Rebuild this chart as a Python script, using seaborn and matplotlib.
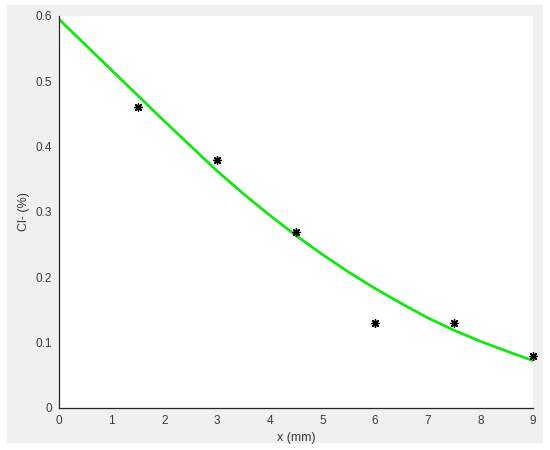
import matplotlib
matplotlib.use("Agg")
import matplotlib.pyplot as plt
import seaborn as sns
import pandas as pd
from matplotlib.patches import Rectangle

# Measured data points
x_data = [1.5, 3.0, 4.5, 6.0, 7.5, 9.0]
cl_data = [0.46, 0.38, 0.27, 0.13, 0.13, 0.08]

# Fitted curve
x_fit = [0, 0.5, 1, 1.5, 2, 2.5, 3, 3.5, 4, 4.5, 5, 5.5, 6, 6.5, 7, 7.5, 8, 8.5, 9]
cl_fit = [0.595, 0.556, 0.517, 0.478, 0.439, 0.401, 0.363, 0.328, 0.295, 0.264,
          0.235, 0.208, 0.183, 0.160, 0.138, 0.119, 0.102, 0.087, 0.0725]

x_ticks = [0, 1, 2, 3, 4, 5, 6, 7, 8, 9]
y_ticks = [0, 0.1, 0.2, 0.3, 0.4, 0.5, 0.6]
y_tick_labels = ["0", "0.1", "0.2", "0.3", "0.4", "0.5", "0.6"]

sns.set_style("white")
plt.rcParams['font.family'] = ['Liberation Sans', 'DejaVu Sans']

fig = plt.figure(figsize=(5.5, 4.5), dpi=100, facecolor="white")
bg = Rectangle((7 / 550, 1 - 443 / 450), 536 / 550, 438 / 450,
               transform=fig.transFigure, facecolor="#f0f0f0",
               edgecolor="none", zorder=-10)
fig.add_artist(bg)
ax = fig.add_axes([59 / 550, 1 - 408 / 450, 474 / 550, 392 / 450])
ax.set_zorder(1)
ax.set_facecolor("white")

df_fit = pd.DataFrame({"x": x_fit, "cl": cl_fit})
df_pts = pd.DataFrame({"x": x_data, "cl": cl_data})

sns.lineplot(data=df_fit, x="x", y="cl", ax=ax, color="#14e614", linewidth=2, zorder=2)
sns.scatterplot(data=df_pts, x="x", y="cl", ax=ax, marker=(8, 2, 0), color="black",
                s=30, edgecolor="black", linewidth=1.0, zorder=3, clip_on=False)

ax.set_xlim(0, 9)
ax.set_ylim(0, 0.6)
ax.set_xticks(x_ticks)
ax.set_xticklabels([str(t) for t in x_ticks])
ax.set_yticks(y_ticks)
ax.set_yticklabels(y_tick_labels)

for s in ["top", "right"]:
    ax.spines[s].set_visible(False)
for s in ["left", "bottom"]:
    ax.spines[s].set_color("#262626")
    ax.spines[s].set_linewidth(0.9)

txt = "#3a3a3a"
ax.tick_params(direction="in", length=3, width=0.8, color="#262626",
               labelsize=8.5, labelcolor=txt, pad=5)
ax.set_xlabel("x (mm)", fontsize=9, color=txt, labelpad=4)
ax.set_ylabel("Cl- (%)", fontsize=9, color=txt, labelpad=4)

fig.savefig("out.png", dpi=100, facecolor="white")
